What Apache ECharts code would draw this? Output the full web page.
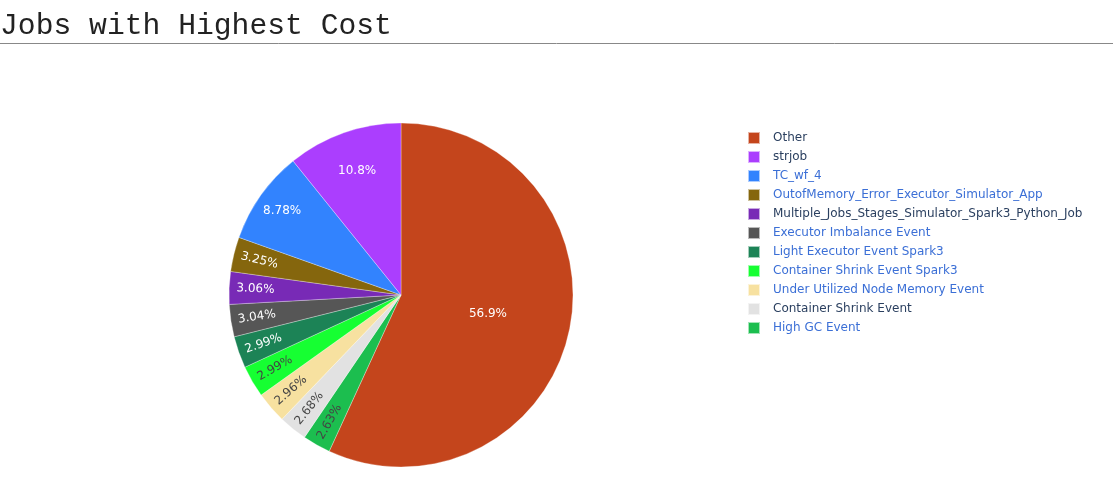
<!DOCTYPE html>
<html>
<head>
<meta charset="utf-8">
<script src="https://cdn.jsdelivr.net/npm/echarts@6/dist/echarts.min.js"></script>
<style>
  html, body { margin: 0; padding: 0; background: #fff; }
  #chart { width: 1113px; height: 479px; }
</style>
</head>
<body>
<div id="chart"></div>
<script>
const jobNames = [
  'Other',
  'strjob',
  'TC_wf_4',
  'OutofMemory_Error_Executor_Simulator_App',
  'Multiple_Jobs_Stages_Simulator_Spark3_Python_Job',
  'Executor Imbalance Event',
  'Light Executor Event Spark3',
  'Container Shrink Event Spark3',
  'Under Utilized Node Memory Event',
  'Container Shrink Event',
  'High GC Event'
]
const costShare = [56.9, 10.8, 8.78, 3.25, 3.06, 3.04, 2.99, 2.99, 2.96, 2.68, 2.63]

const sliceColors = ['#C4451C', '#AB3EFE', '#3283FE', '#85660D', '#782AB6', '#565656',
  '#1C8356', '#16FF32', '#F7E1A0', '#E2E2E2', '#1CBE4F']
const lightSlices = ['#16FF32', '#F7E1A0', '#E2E2E2', '#1CBE4F']
const blueLegend = [2, 3, 5, 6, 7, 8, 10]

// plotly draws the biggest slice first, rest run the other way round
const drawOrder = [0, 10, 9, 8, 7, 6, 5, 4, 3, 2, 1]
const R = 172
const center = [401, 295]
const font = '"DejaVu Sans", Verdana, sans-serif'

// which ring each label sits in (plotly pushes the labels outward to fit)
const labelGroups = {
  main: [0],
  mid: [1],
  outer: [2, 3, 4, 5, 6, 7, 8, 9, 10]
}

function labelFor(i, which) {
  const big = costShare[i] > 5
  return {
    show: labelGroups[which].includes(i),
    position: 'inside',
    rotate: big ? 0 : 'radial',
    overflow: 'none',
    formatter: p => p.value + '%',
    color: lightSlices.includes(sliceColors[i]) ? '#444' : '#fff',
    fontSize: 12,
    fontFamily: font
  }
}

function buildData(which) {
  return drawOrder.map(i => ({
    name: jobNames[i],
    value: costShare[i],
    itemStyle: which === 'main' ? { color: sliceColors[i] } : { color: 'rgba(0,0,0,0)' },
    label: labelFor(i, which)
  }))
}

function overlay(which, radius) {
  return {
    type: 'pie',
    center,
    radius,
    startAngle: 90,
    clockwise: true,
    silent: true,
    legendHoverLink: false,
    emphasis: { disabled: true },
    labelLine: { show: false },
    labelLayout: { hideOverlap: false },
    itemStyle: { borderWidth: 0 },
    data: buildData(which)
  }
}

const chart = echarts.init(document.getElementById('chart'))
chart.setOption({
  animation: false,
  title: {
    text: 'Jobs with Highest Cost',
    left: -5,
    top: 6,
    textStyle: {
      fontFamily: '"Liberation Mono", "Courier New", monospace',
      fontSize: 29.7,
      fontWeight: 'normal',
      color: '#222'
    }
  },
  graphic: [{
    type: 'line',
    shape: { x1: 0, y1: 43.5, x2: 1113, y2: 43.5 },
    style: { stroke: '#888', lineWidth: 1 }
  }],
  legend: {
    orient: 'vertical',
    left: 747,
    top: 131,
    padding: 0,
    itemWidth: 12,
    itemHeight: 12,
    itemGap: 5,
    icon: 'rect',
    selectedMode: false,
    textStyle: { fontSize: 12, fontFamily: font, padding: [0, 0, 0, 8] },
    data: jobNames.map((n, i) => ({
      name: n,
      itemStyle: { color: sliceColors[i] },
      textStyle: { color: blueLegend.includes(i) ? '#3b6fd6' : '#2a3f5f' }
    }))
  },
  series: [
    {
      type: 'pie',
      center,
      radius: [0, R],
      startAngle: 90,
      clockwise: true,
      labelLine: { show: false },
      itemStyle: { borderColor: 'rgba(255,255,255,0.6)', borderWidth: 0.5 },
      data: buildData('main')
    },
    overlay('mid', [R * 0.5, R]),
    overlay('outer', [R * 0.66, R])
  ]
})
</script>
</body>
</html>
